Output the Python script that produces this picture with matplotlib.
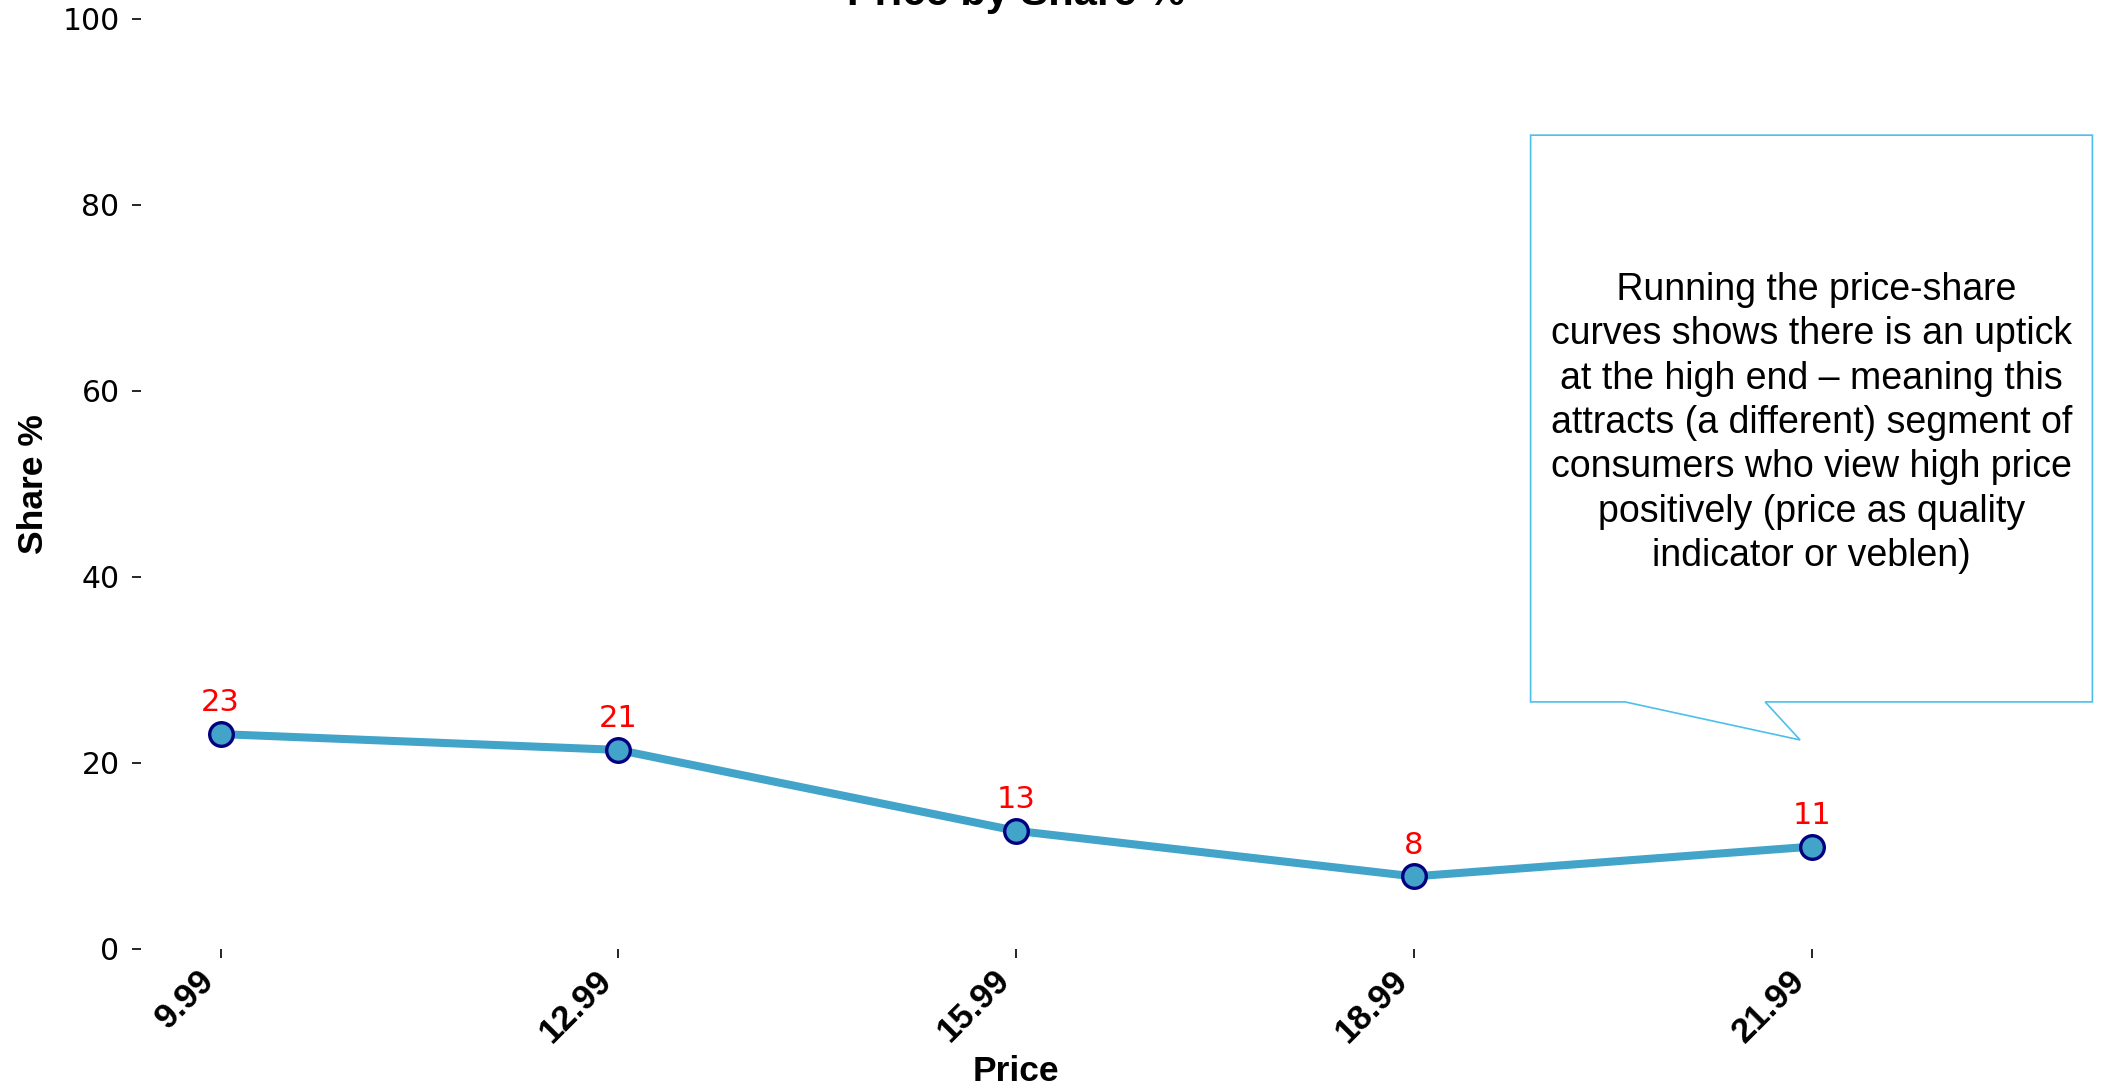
import matplotlib.pyplot as plt
from matplotlib.patches import Polygon

# price points and their share of choice (%)
prices = ["9.99", "12.99", "15.99", "18.99", "21.99"]
share = [23.1, 21.4, 12.7, 7.8, 11.0]

note = (" Running the price-share\n"
        "curves shows there is an uptick\n"
        "at the high end \u2013 meaning this\n"
        "attracts (a different) segment of\n"
        "consumers who view high price\n"
        "positively (price as quality\n"
        "indicator or veblen)")

fig = plt.figure(figsize=(21.05, 10.86), dpi=100)
ax = fig.add_axes([0.067, 0.1262, 0.8314, 0.8564])

x = list(range(len(prices)))
ax.plot(x, share, color="#42a4c9", linewidth=5.8, marker="o", markersize=17,
        markerfacecolor="#42a4c9", markeredgecolor="navy", markeredgewidth=2.4,
        zorder=3)

# value labels above each point
for xi, v in zip(x, share):
    ax.annotate(f"{v:.0f}", (xi, v), xytext=(0, 12), textcoords="offset points",
                ha="center", va="bottom", color="red", fontsize=22)

ax.set_xlim(-0.2, 4.2)
ax.set_ylim(0, 100)
ax.set_xticks(x)
ax.set_xticklabels(prices, rotation=45, ha="right", fontsize=25,
                   fontweight="bold", family="Liberation Sans")
ax.set_yticks([0, 20, 40, 60, 80, 100])
ax.tick_params(axis="y", labelsize=21.5, length=6.5, width=1.2, pad=9)
ax.tick_params(axis="x", length=6.5, width=1.2, pad=4)
for s in ax.spines.values():
    s.set_visible(False)

ax.set_xlabel("Price", fontsize=25.5, fontweight="bold", family="Liberation Sans")
ax.xaxis.set_label_coords(0.5, -0.1145)
ax.set_ylabel("Share %", fontsize=25.5, fontweight="bold", family="Liberation Sans",
              labelpad=9)
ax.set_title("Price by Share %", fontsize=30, fontweight="bold",
             family="Liberation Sans", pad=10)

# speech-bubble callout to the right
bubble = [(0.794, 0.875), (1.115, 0.875), (1.115, 0.2656), (0.928, 0.2656),
          (0.948, 0.2247), (0.848, 0.2656), (0.794, 0.2656)]
ax.add_patch(Polygon(bubble, closed=True, transform=ax.transAxes,
                     facecolor="white", edgecolor="#4cbfea", linewidth=1.2,
                     clip_on=False, zorder=4))
ax.text(0.9545, 0.5655, note, transform=ax.transAxes, ha="center", va="center",
        fontsize=27, family="Liberation Sans", linespacing=1.3, zorder=5)

fig.savefig("out.png", dpi=100)
